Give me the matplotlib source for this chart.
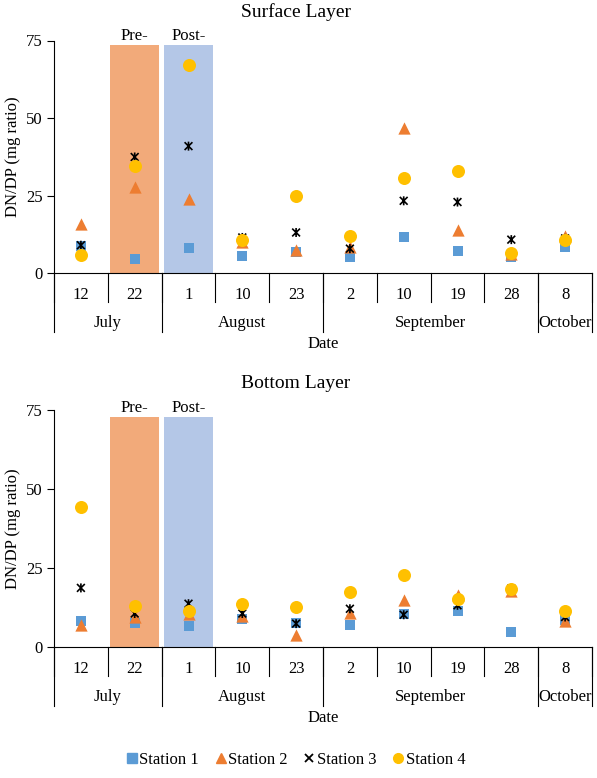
import numpy as np
import matplotlib
matplotlib.use("Agg")
import matplotlib.pyplot as plt
from matplotlib.path import Path
from matplotlib.lines import Line2D

plt.rcParams['font.family'] = ['Liberation Serif', 'DejaVu Serif']

# datos
days = ["12", "22", "1", "10", "23", "2", "10", "19", "28", "8"]
months = ["July", "August", "September", "October"]
month_len = [2, 3, 4, 1]
stations = ["Station 1", "Station 2", "Station 3", "Station 4"]

surf_s1 = [8.8, 4.6, 8.3, 5.7, 7.0, 5.4, 11.6, 7.4, 5.2, 8.6]
surf_s2 = [15.9, 27.9, 24.1, 10.2, 7.5, 8.6, 46.8, 13.9, 6.4, 12.1]
surf_s3 = [9.1, 37.5, 41.0, 11.6, 13.2, 8.0, 23.4, 23.0, 10.9, 11.3]
surf_s4 = [5.9, 34.5, 67.0, 10.7, 25.0, 12.0, 30.9, 33.1, 6.6, 10.9]

bot_s1 = [8.1, 7.7, 6.5, 9.0, 7.7, 7.1, 10.6, 11.3, 4.9, 8.5]
bot_s2 = [6.9, 9.5, 10.6, 9.7, 3.7, 10.8, 14.8, 16.6, 17.7, 8.2]
bot_s3 = [18.7, 10.6, 13.7, 10.6, 7.4, 12.1, 10.2, 13.2, 18.5, 9.5]
bot_s4 = [44.4, 13.0, 11.3, 13.7, 12.7, 17.4, 22.9, 15.3, 18.2, 11.3]

event_idx = [1, 2]
event_labels = ["Pre-", "Post-"]
surf_event_top = [73.6, 73.6]
bot_event_top = [72.7, 72.7]

# estilos tipo Excel
colors = ["#5B9BD5", "#ED7D31", "black", "#FFC000"]
event_colors = ["#F2AA7A", "#B4C7E7"]
star = Path([(-1, -1), (1, 1), (-1, 1), (1, -1), (0, -1.15), (0, 1.15)],
            [Path.MOVETO, Path.LINETO, Path.MOVETO, Path.LINETO, Path.MOVETO, Path.LINETO])

FS = 12
W, H = 597, 778
fig = plt.figure(figsize=(W / 100, H / 100), dpi=100)


def draw_panel(top_px, bottom_px, title, title_px, series, event_top):
    left_px, right_px = 54, 592
    ax = fig.add_axes([left_px / W, 1 - bottom_px / H,
                       (right_px - left_px) / W, (bottom_px - top_px) / H])
    hpx = bottom_px - top_px
    x = np.arange(len(days))

    ax.bar(event_idx, event_top, width=0.92, color=event_colors, zorder=1)
    for i, lab, t in zip(event_idx, event_labels, event_top):
        ax.text(i, t + 0.3, lab, ha="center", va="bottom", fontsize=FS)

    s1, s2, s3, s4 = series
    ax.scatter(x, s1, marker="s", s=62, color=colors[0], zorder=3, linewidths=0)
    ax.scatter(x, s2, marker="^", s=78, color=colors[1], zorder=3, linewidths=0)
    ax.scatter(x, s3, marker=star, s=42, facecolor="none", edgecolor=colors[2],
               linewidths=1.2, zorder=3)
    ax.scatter(x, s4, marker="o", s=88, color=colors[3], zorder=3, linewidths=0)

    ax.set_xlim(-0.5, len(days) - 0.5)
    ax.set_ylim(0, 75)
    ax.set_yticks([0, 25, 50, 75])
    ax.tick_params(axis="y", labelsize=FS, length=5, width=0.8, direction="out", pad=3)
    ax.set_xticks([])
    for sp in ["top", "right"]:
        ax.spines[sp].set_visible(False)
    ax.spines["left"].set_linewidth(0.8)
    ax.spines["bottom"].set_linewidth(0.8)
    ax.set_ylabel("DN/DP (mg ratio)", fontsize=FS, labelpad=4)
    fig.text(296 / W, 1 - title_px / H, title, ha="center", va="center", fontsize=14)

    tr = ax.get_xaxis_transform()
    row1 = -29 / hpx
    row2 = -59 / hpx
    # separadores de dias
    for b in np.arange(len(days) + 1) - 0.5:
        ax.add_line(Line2D([b, b], [0, row1], transform=tr, color="black",
                           lw=0.8, clip_on=False))
    for i, d in enumerate(days):
        ax.text(i, -22 / hpx, d, transform=tr, ha="center", va="center", fontsize=FS)
    # separadores de meses
    edges = np.concatenate([[0], np.cumsum(month_len)]) - 0.5
    for b in edges:
        ax.add_line(Line2D([b, b], [0, row2], transform=tr, color="black",
                           lw=0.8, clip_on=False))
    for m, a, b in zip(months, edges[:-1], edges[1:]):
        ax.text((a + b) / 2, -50 / hpx, m, transform=tr, ha="center", va="center",
                fontsize=FS)
    ax.text(0.5, -71 / hpx, "Date", transform=ax.transAxes, ha="center",
            va="center", fontsize=FS)
    return ax


draw_panel(40.5, 273.5, "Surface Layer", 12, [surf_s1, surf_s2, surf_s3, surf_s4], surf_event_top)
draw_panel(410, 647, "Bottom Layer", 384, [bot_s1, bot_s2, bot_s3, bot_s4], bot_event_top)

handles = [
    Line2D([], [], ls="none", marker="s", ms=6.5, color=colors[0]),
    Line2D([], [], ls="none", marker="^", ms=7, color=colors[1]),
    Line2D([], [], ls="none", marker="x", ms=6, mew=1.3, color=colors[2]),
    Line2D([], [], ls="none", marker="o", ms=7, color=colors[3]),
]
fig.legend(handles, stations, loc="center", bbox_to_anchor=(296 / W, 1 - 760 / H),
           ncol=4, frameon=False, fontsize=FS, handlelength=0.6,
           handletextpad=0.15, columnspacing=1.0)

fig.savefig("out.png", dpi=100)
